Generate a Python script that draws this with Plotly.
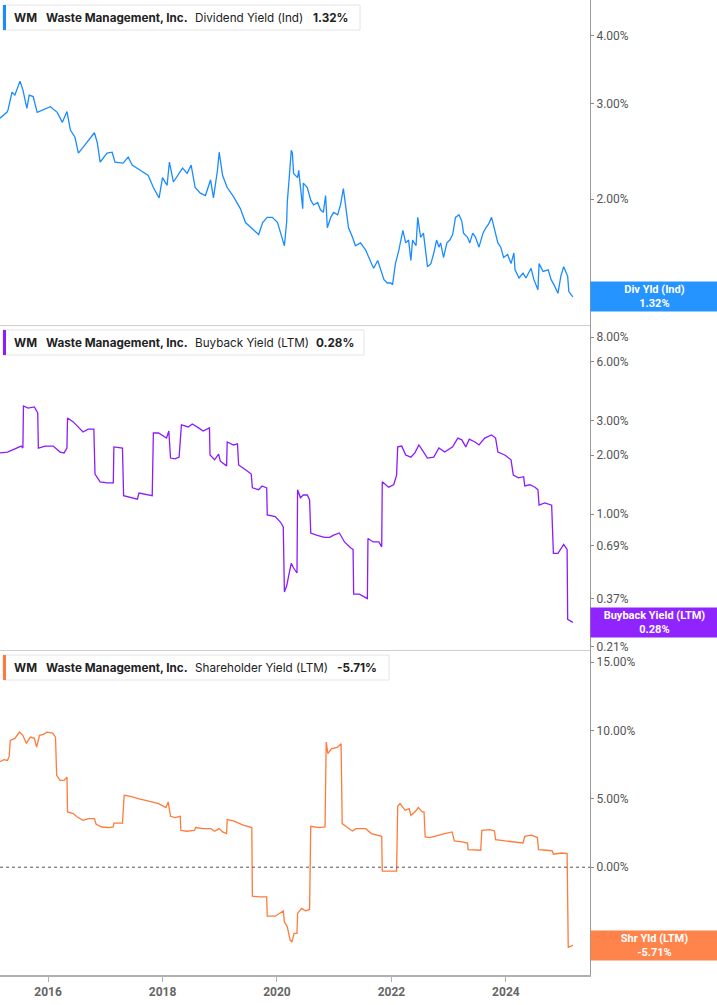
import math
import plotly.graph_objects as go
from plotly.subplots import make_subplots

# ---------------- data ----------------
div_years = [2015.16, 2015.28, 2015.30, 2015.37, 2015.42, 2015.48, 2015.51, 2015.56, 2015.60, 2015.63,
             2015.67, 2015.74, 2015.81, 2015.91, 2016.04, 2016.16, 2016.25, 2016.33, 2016.39, 2016.47,
             2016.53, 2016.61, 2016.74, 2016.81, 2016.86, 2016.91, 2017.03, 2017.12, 2017.17, 2017.31,
             2017.40, 2017.47, 2017.61, 2017.75, 2017.84, 2017.94, 2018.00, 2018.08, 2018.12, 2018.19,
             2018.35, 2018.43, 2018.50, 2018.57, 2018.66, 2018.75, 2018.84, 2018.89, 2018.96, 2018.99,
             2019.05, 2019.13, 2019.24, 2019.36, 2019.45, 2019.59, 2019.68, 2019.75, 2019.83, 2019.92,
             2020.01, 2020.10, 2020.13, 2020.17, 2020.18, 2020.22, 2020.25, 2020.27, 2020.29, 2020.36,
             2020.38, 2020.45, 2020.46, 2020.53, 2020.59, 2020.64, 2020.71, 2020.76, 2020.81, 2020.85,
             2020.88, 2020.94, 2020.99, 2021.06, 2021.11, 2021.16, 2021.20, 2021.25, 2021.32, 2021.37,
             2021.46, 2021.55, 2021.64, 2021.69, 2021.76, 2021.81, 2021.87, 2021.93, 2021.99, 2022.02,
             2022.07, 2022.13, 2022.20, 2022.25, 2022.30, 2022.34, 2022.37, 2022.43, 2022.46, 2022.51,
             2022.56, 2022.63, 2022.69, 2022.74, 2022.79, 2022.83, 2022.86, 2022.91, 2022.97, 2023.02,
             2023.07, 2023.12, 2023.18, 2023.23, 2023.26, 2023.33, 2023.37, 2023.42, 2023.47, 2023.53,
             2023.60, 2023.65, 2023.70, 2023.75, 2023.79, 2023.86, 2023.91, 2023.96, 2024.03, 2024.09,
             2024.14, 2024.16, 2024.23, 2024.30, 2024.35, 2024.44, 2024.49, 2024.56, 2024.58, 2024.65,
             2024.74, 2024.79, 2024.84, 2024.91, 2024.96, 2025.01, 2025.08, 2025.10, 2025.17]
div_values = [2.82, 2.89, 2.92, 3.15, 3.11, 3.22, 3.30, 3.18, 3.02, 2.94,
              3.11, 3.09, 2.89, 2.92, 2.96, 2.89, 2.77, 2.90, 2.68, 2.60,
              2.43, 2.49, 2.59, 2.65, 2.54, 2.34, 2.43, 2.44, 2.34, 2.33,
              2.39, 2.31, 2.26, 2.21, 2.10, 2.01, 2.19, 2.12, 2.34, 2.15,
              2.28, 2.23, 2.31, 2.10, 2.05, 2.03, 2.17, 2.01, 2.26, 2.44,
              2.21, 2.10, 2.02, 1.92, 1.81, 1.75, 1.72, 1.81, 1.85, 1.85,
              1.81, 1.68, 1.64, 1.82, 1.97, 2.23, 2.46, 2.43, 2.23, 2.19,
              2.26, 1.92, 2.14, 2.10, 1.99, 1.95, 1.97, 1.91, 1.89, 2.03,
              1.77, 1.85, 1.89, 1.87, 1.95, 2.09, 1.93, 1.77, 1.70, 1.64,
              1.66, 1.61, 1.53, 1.49, 1.54, 1.48, 1.42, 1.40, 1.40, 1.39,
              1.52, 1.61, 1.75, 1.66, 1.68, 1.54, 1.68, 1.64, 1.85, 1.70,
              1.73, 1.50, 1.52, 1.59, 1.68, 1.63, 1.66, 1.56, 1.66, 1.68,
              1.72, 1.85, 1.87, 1.82, 1.73, 1.70, 1.66, 1.73, 1.70, 1.63,
              1.73, 1.77, 1.80, 1.85, 1.77, 1.66, 1.63, 1.56, 1.58, 1.52,
              1.59, 1.48, 1.43, 1.46, 1.43, 1.49, 1.42, 1.36, 1.52, 1.47,
              1.48, 1.42, 1.39, 1.34, 1.44, 1.50, 1.44, 1.35, 1.32]

bb_years = [2015.16, 2015.29, 2015.42, 2015.53, 2015.56, 2015.57, 2015.65, 2015.76, 2015.82, 2015.83,
            2015.95, 2016.09, 2016.21, 2016.28, 2016.33, 2016.34, 2016.44, 2016.54, 2016.61, 2016.70,
            2016.80, 2016.82, 2016.91, 2017.03, 2017.14, 2017.15, 2017.30, 2017.32, 2017.47, 2017.56,
            2017.59, 2017.73, 2017.82, 2017.84, 2017.93, 2018.07, 2018.11, 2018.14, 2018.22, 2018.29,
            2018.33, 2018.45, 2018.52, 2018.63, 2018.71, 2018.82, 2018.83, 2018.91, 2018.98, 2019.01,
            2019.12, 2019.13, 2019.24, 2019.31, 2019.33, 2019.45, 2019.55, 2019.57, 2019.68, 2019.74,
            2019.82, 2019.83, 2019.97, 2020.06, 2020.11, 2020.13, 2020.17, 2020.22, 2020.25, 2020.29,
            2020.35, 2020.36, 2020.41, 2020.46, 2020.53, 2020.57, 2020.59, 2020.69, 2020.83, 2020.92,
            2020.99, 2021.09, 2021.18, 2021.29, 2021.33, 2021.34, 2021.44, 2021.51, 2021.58, 2021.59,
            2021.68, 2021.78, 2021.83, 2021.84, 2021.95, 2022.04, 2022.09, 2022.11, 2022.18, 2022.25,
            2022.34, 2022.41, 2022.48, 2022.54, 2022.63, 2022.74, 2022.83, 2022.93, 2023.07, 2023.16,
            2023.23, 2023.30, 2023.36, 2023.46, 2023.53, 2023.63, 2023.75, 2023.82, 2023.86, 2023.98,
            2024.09, 2024.13, 2024.22, 2024.31, 2024.33, 2024.42, 2024.51, 2024.56, 2024.58, 2024.68,
            2024.80, 2024.83, 2024.91, 2025.01, 2025.07, 2025.08, 2025.17]
bb_values = [2.05, 2.07, 2.15, 2.22, 2.17, 3.56, 3.47, 3.52, 3.28, 2.17,
             2.22, 2.22, 2.07, 2.05, 2.17, 3.09, 2.95, 2.75, 2.62, 2.71,
             2.71, 1.60, 1.46, 1.44, 1.44, 2.20, 2.17, 1.24, 1.21, 1.19,
             1.28, 1.25, 1.24, 2.59, 2.59, 2.44, 2.65, 1.93, 1.91, 1.95,
             2.85, 2.78, 2.88, 2.75, 2.65, 2.75, 2.00, 1.89, 2.02, 1.86,
             1.76, 2.33, 2.25, 2.28, 1.78, 1.68, 1.60, 1.36, 1.33, 1.39,
             1.36, 0.99, 0.97, 0.91, 0.86, 0.40, 0.43, 0.51, 0.56, 0.53,
             0.50, 1.33, 1.21, 1.25, 1.25, 1.18, 0.80, 0.78, 0.76, 0.76,
             0.78, 0.80, 0.72, 0.67, 0.66, 0.39, 0.39, 0.38, 0.37, 0.75,
             0.72, 0.72, 0.68, 1.46, 1.37, 1.41, 1.58, 2.20, 2.22, 2.00,
             1.95, 2.05, 2.25, 2.12, 1.93, 1.95, 2.17, 2.07, 2.20, 2.44,
             2.39, 2.20, 2.41, 2.33, 2.25, 2.44, 2.53, 2.44, 2.07, 2.00,
             1.89, 1.58, 1.53, 1.55, 1.39, 1.41, 1.37, 1.33, 1.11, 1.14,
             1.11, 0.63, 0.63, 0.70, 0.66, 0.29, 0.28]

shr_years = [2015.16, 2015.23, 2015.29, 2015.32, 2015.34, 2015.42, 2015.50, 2015.56, 2015.62, 2015.69,
             2015.76, 2015.80, 2015.85, 2015.92, 2015.98, 2016.08, 2016.13, 2016.15, 2016.21, 2016.28,
             2016.33, 2016.34, 2016.44, 2016.51, 2016.61, 2016.71, 2016.81, 2016.84, 2016.94, 2017.07,
             2017.14, 2017.15, 2017.30, 2017.33, 2017.44, 2017.59, 2017.76, 2017.93, 2018.06, 2018.10,
             2018.14, 2018.22, 2018.31, 2018.32, 2018.42, 2018.56, 2018.58, 2018.71, 2018.85, 2018.91,
             2018.99, 2019.05, 2019.12, 2019.13, 2019.24, 2019.41, 2019.56, 2019.57, 2019.70, 2019.82,
             2019.83, 2019.97, 2020.11, 2020.13, 2020.18, 2020.23, 2020.26, 2020.30, 2020.35, 2020.36,
             2020.43, 2020.50, 2020.57, 2020.59, 2020.73, 2020.84, 2020.86, 2020.89, 2020.95, 2021.06,
             2021.12, 2021.14, 2021.22, 2021.32, 2021.38, 2021.55, 2021.65, 2021.83, 2021.84, 2022.09,
             2022.11, 2022.15, 2022.24, 2022.31, 2022.34, 2022.41, 2022.47, 2022.54, 2022.57, 2022.59,
             2022.67, 2022.80, 2022.93, 2023.06, 2023.10, 2023.23, 2023.33, 2023.34, 2023.56, 2023.58,
             2023.72, 2023.80, 2023.82, 2023.99, 2024.15, 2024.30, 2024.33, 2024.45, 2024.55, 2024.57,
             2024.71, 2024.81, 2024.83, 2024.97, 2025.07, 2025.09, 2025.17]
shr_values = [7.72, 7.86, 7.81, 8.10, 9.27, 9.42, 9.88, 9.64, 9.05, 9.51,
              9.42, 8.78, 9.64, 9.71, 9.88, 9.80, 9.51, 6.72, 6.35, 6.35,
              6.59, 4.04, 3.92, 3.67, 3.43, 3.55, 3.55, 3.14, 2.94, 2.90,
              2.94, 3.23, 3.23, 5.26, 5.18, 4.99, 4.84, 4.65, 4.36, 4.77,
              3.72, 3.63, 3.72, 2.70, 2.63, 2.70, 2.90, 2.82, 2.82, 2.63,
              2.82, 2.58, 2.46, 3.48, 3.38, 3.07, 2.90, -2.12, -2.17, -2.17,
              -3.58, -3.58, -3.19, -3.99, -4.36, -5.33, -5.45, -4.84, -4.84, -3.38,
              -3.01, -3.19, -3.09, 2.99, 2.90, 2.94, 9.15, 8.30, 8.66, 8.78,
              9.03, 3.19, 2.94, 2.65, 2.82, 2.82, 2.46, 2.26, -0.29, -0.29,
              4.45, 4.65, 4.16, 4.28, 3.80, 4.04, 4.36, 4.04, 4.04, 2.21,
              2.17, 2.34, 2.46, 2.58, 1.92, 1.85, 1.77, 1.29, 1.24, 2.70,
              2.75, 2.65, 2.02, 1.92, 1.85, 1.77, 2.26, 2.34, 2.17, 1.29,
              1.24, 1.19, 0.95, 1.04, 1.00, -5.86, -5.71]

year_ticks = [2016, 2018, 2020, 2022, 2024]
div_ticks = [2.0, 3.0, 4.0]
bb_ticks = [0.21, 0.37, 0.69, 1.0, 2.0, 3.0, 6.0, 8.0]
shr_ticks = [-5, 0, 5, 10, 15]

ticker = "WM"
company = "Waste Management, Inc."
metrics = ["Dividend Yield (Ind)", "Buyback Yield (LTM)", "Shareholder Yield (LTM)"]
badge_names = ["Div Yld (Ind)", "Buyback Yield (LTM)", "Shr Yld (LTM)"]
last_values = [1.32, 0.28, -5.71]
colors = ["#1a8cff", "#8a1cff", "#ff7b3a"]
badge_colors = ["#1e90ff", "#8b1cff", "#ff7f45"]

# ---------------- figure ----------------
W, H = 717, 1005
ML, MR, MT, MB = 0, 127, 0, 30
PW = W - ML - MR
PH = H - MT - MB

fig = make_subplots(rows=3, cols=1, shared_xaxes=True, vertical_spacing=0)

series = [(div_years, div_values), (bb_years, bb_values), (shr_years, shr_values)]
for i, (xs, ys) in enumerate(series):
    fig.add_trace(go.Scatter(x=xs, y=ys, mode="lines",
                             line=dict(color=colors[i], width=1.3),
                             hoverinfo="skip"), row=i + 1, col=1)

tick_font = dict(family="Roboto, Arial, sans-serif", size=12, color="#555")


def fmt(v):
    return f"{v:.2f}%"


fig.update_layout(
    width=W, height=H,
    margin=dict(l=ML, r=MR, t=MT, b=MB),
    paper_bgcolor="white", plot_bgcolor="white",
    showlegend=False,
    font=dict(family="Roboto, Arial, sans-serif"),
)

panel_px = [(0, 325), (325, 650), (650, 975)]


def dom(p):
    a, b = p
    return [(PH - b) / PH, (PH - a) / PH]


fig.update_yaxes(row=1, col=1, type="log", range=[0.0686, 0.6682],
                 tickvals=div_ticks, ticktext=[fmt(v) for v in div_ticks], domain=dom(panel_px[0]))
fig.update_yaxes(row=2, col=1, type="log", range=[-0.6939, 0.9643],
                 tickvals=bb_ticks, ticktext=[fmt(v) for v in bb_ticks], domain=dom(panel_px[1]))
fig.update_yaxes(row=3, col=1, type="linear", range=[-7.88, 15.88],
                 tickvals=shr_ticks, ticktext=[fmt(v) for v in shr_ticks], domain=dom(panel_px[2]))
fig.update_yaxes(side="right", showgrid=False, zeroline=False, showline=True,
                 linecolor="#9a9a9a", linewidth=1, ticks="outside", ticklen=3,
                 tickcolor="#888", tickfont=tick_font)

fig.update_xaxes(type="linear", range=[2015.16, 2025.47], showgrid=False, zeroline=False,
                 showline=True, linecolor="#cfcfcf", linewidth=1, tickvals=year_ticks,
                 ticktext=[str(y) for y in year_ticks])
fig.update_xaxes(row=3, col=1, linecolor="#b0b0b0", linewidth=2, ticks="outside", ticklen=5,
                 tickcolor="#b0b0b0", tickfont=dict(family="Roboto, Arial, sans-serif", size=12,
                                                    color="#666", weight="bold"))

# zero dotted line in bottom panel
fig.add_shape(type="line", xref="x3 domain", yref="y3", x0=0, x1=1, y0=0, y1=0,
              line=dict(color="#555", width=1, dash="dot"))


def px_x(x):
    return (x - ML) / PW


def px_y(y):
    return (PH - (y - MT)) / PH


# legend boxes
box_right = [360, 364, 389]
value_x = [311, 314, 335]
for i in range(3):
    top = panel_px[i][0] + 5
    bot = top + 25
    fig.add_shape(type="rect", xref="paper", yref="paper",
                  x0=px_x(3), x1=px_x(box_right[i]), y0=px_y(bot), y1=px_y(top),
                  fillcolor="white", line=dict(color="#e4e4e4", width=1), layer="above")
    fig.add_shape(type="rect", xref="paper", yref="paper",
                  x0=px_x(3), x1=px_x(6), y0=px_y(bot), y1=px_y(top),
                  fillcolor=colors[i], line=dict(width=0), layer="above")
    yc = px_y((top + bot) / 2)
    texts = [(12, f"<b>{ticker}</b>"), (44, f"<b>{company}</b>"),
             (193, metrics[i]), (value_x[i], f"<b>{fmt(last_values[i])}</b>")]
    for xp, t in texts:
        fig.add_annotation(xref="paper", yref="paper", x=px_x(xp), y=yc, text=t,
                           showarrow=False, xanchor="left", yanchor="middle",
                           font=dict(family="Inter, Roboto, sans-serif", size=11.7, color="#222"))

# value badges on the right axis
badge_y = [math.log10(last_values[0]), math.log10(last_values[1]), last_values[2]]
yrefs = ["y", "y2", "y3"]
for i in range(3):
    fig.add_annotation(xref="paper", yref=yrefs[i], x=1, y=badge_y[i],
                       text=f"<b>{badge_names[i]}</b><br><b>{fmt(last_values[i])}</b>",
                       showarrow=False, xanchor="left", yanchor="middle",
                       width=127, height=29, borderpad=0, bgcolor=badge_colors[i], opacity=0.96,
                       font=dict(family="Roboto, Arial, sans-serif", size=11, color="white"))

fig.write_html("out.html",
               config={"displayModeBar": False},
               post_script="document.body.style.margin='0';document.body.style.padding='0';"
                           "document.body.style.overflow='hidden';")
